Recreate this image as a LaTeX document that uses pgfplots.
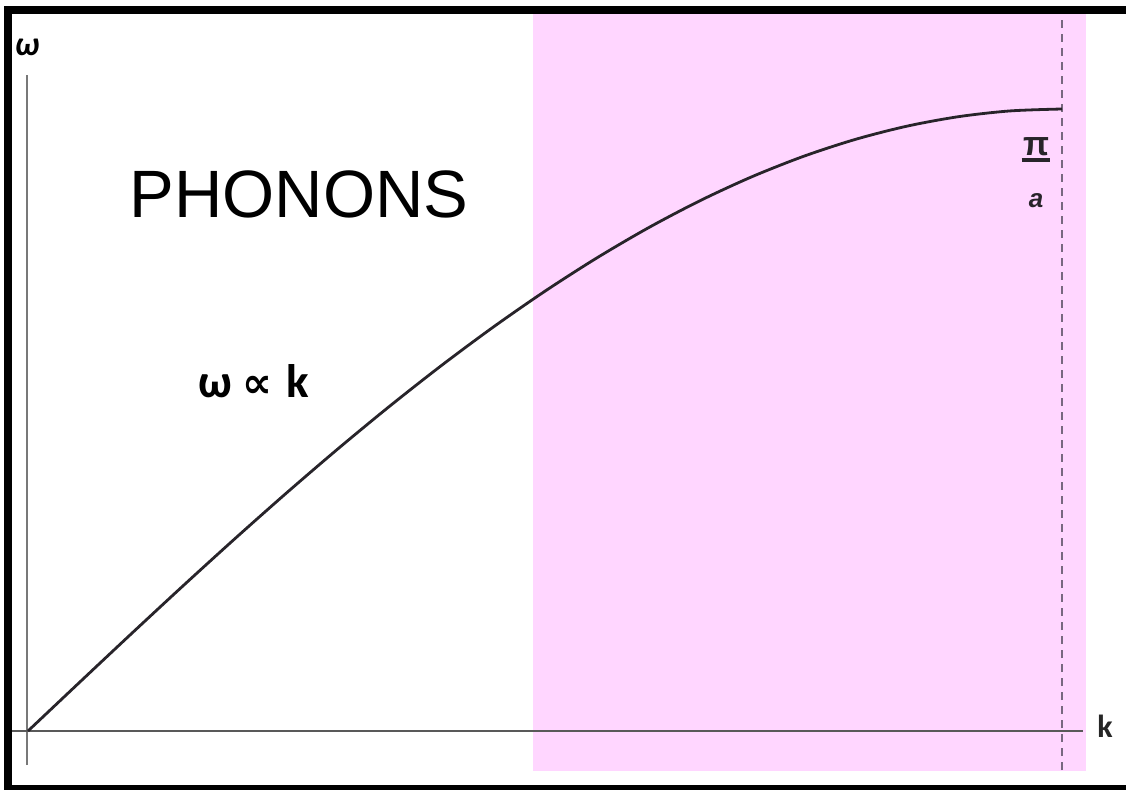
\documentclass[border=0pt]{standalone}
\usepackage{fontspec}
\setmainfont{Liberation Sans}
\newfontfamily\carl{Carlito}
\newfontfamily\dejavu{DejaVu Sans}
\usepackage{pgfplots}
\pgfplotsset{compat=1.18}
\definecolor{pinkbg}{RGB}{255,214,255}
\definecolor{curvec}{RGB}{40,36,42}
\definecolor{dashc}{RGB}{120,104,128}
\definecolor{axgray}{RGB}{120,120,120}
\begin{document}
\begin{tikzpicture}
\begin{axis}[
  scale only axis, width=563pt, height=394.5pt,
  xmin=-0.02708, xmax=1.06190, ymin=-0.09325, ymax=1.17524,
  hide axis, clip=true,
]
% pink band
\addplot[fill=pinkbg, draw=none] coordinates {(0.4884,-0.0643) (1.0232,-0.0643) (1.0232,1.1527) (0.4884,1.1527)} -- cycle;
% dashed line at pi/a
\addplot[dashc, line width=1pt, dash pattern=on 4pt off 3pt] coordinates {(1.0,-0.0627) (1.0,1.1511)};
% axes
\addplot[axgray, line width=1.3pt] coordinates {(-0.001,-0.0547) (-0.001,1.0547)};
\addplot[black!65, line width=1.3pt] coordinates {(-0.0155,0) (1.0203,0)};
% dispersion curve
\addplot[curvec, line width=1.4pt, smooth] coordinates {
(0,0) (0.05,0.07846) (0.1,0.15643) (0.15,0.23345) (0.2,0.30902) (0.25,0.38268)
(0.3,0.45399) (0.35,0.52250) (0.4,0.58779) (0.45,0.64945) (0.5,0.70711)
(0.55,0.76041) (0.6,0.80902) (0.65,0.85264) (0.7,0.89101) (0.75,0.92388)
(0.8,0.95106) (0.85,0.97237) (0.9,0.98769) (0.95,0.99692) (1.0,1.0)};
% frame
\addplot[black, line width=4pt] coordinates {(1.0619,1.1592) (-0.01934,1.1592) (-0.01934,-0.09325) (1.0619,-0.09325)};
% pi/a fraction bar
\addplot[curvec, line width=2pt] coordinates {(0.9610,0.9188) (0.9880,0.9188)};
% texts
\node[font=\fontsize{33.5}{36}\selectfont, anchor=center] at (axis cs:0.2621,0.8633) {PHONONS};
\node[font=\carl\bfseries\fontsize{23.5}{25}\selectfont, anchor=base] at (axis cs:0.2186,0.5354) {ω\hspace{5pt}{\dejavu\bfseries\fontsize{21}{22}\selectfont ∝}\hspace{7pt}k};
\node[font=\carl\bfseries\itshape\fontsize{17}{18}\selectfont, anchor=center] at (axis cs:-0.001,1.0997) {ω};
\node[font=\carl\bfseries\fontsize{16}{17}\selectfont, anchor=center, text=black!85] at (axis cs:1.0416,0.008) {k};
\node[font=\bfseries\fontsize{17}{18}\selectfont, anchor=center, text=curvec] at (axis cs:0.9749,0.9400) {π};
\node[font=\bfseries\itshape\fontsize{13}{14}\selectfont, anchor=center, text=curvec] at (axis cs:0.9749,0.8521) {a};
\end{axis}
\pgfresetboundingbox
\path (current axis.south west) rectangle (current axis.north east);
\end{tikzpicture}
\end{document}
